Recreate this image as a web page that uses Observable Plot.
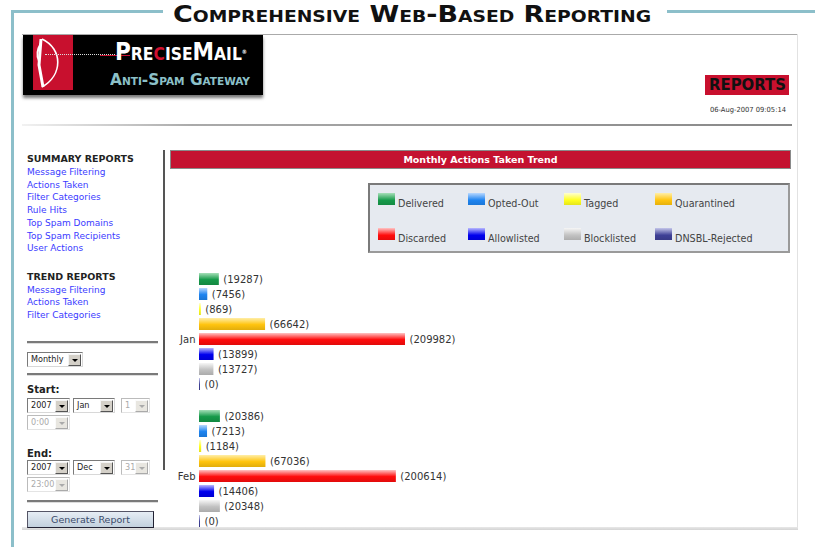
<!DOCTYPE html>
<html><head><meta charset="utf-8">
<script src="https://cdn.jsdelivr.net/npm/d3@7"></script>
<script src="https://cdn.jsdelivr.net/npm/@observablehq/plot@0.6"></script>
<style>
html,body{margin:0;padding:0;background:#fff;}
#page{position:relative;width:815px;height:547px;overflow:hidden;background:#fff;font-family:"DejaVu Sans",sans-serif;}
.abs{position:absolute;}
.sel{position:absolute;height:13px;border:1px solid;border-color:#7a7a7a #d8d8d8 #d8d8d8 #7a7a7a;background:#fff;font:9px/13px "DejaVu Sans Condensed","DejaVu Sans";color:#222;box-sizing:content-box;}
.sel span{position:absolute;left:3px;top:0;}
.sel .btn{position:absolute;right:1px;top:1px;width:11px;height:10px;background:#d4d0c8;border:1px solid;border-color:#f4f4f4 #555 #555 #f4f4f4;}
.sel .btn:after{content:"";position:absolute;left:3px;top:4px;border-left:3px solid transparent;border-right:3px solid transparent;border-top:3px solid #000;}
.sel.dis{color:#aaa;border-color:#bbb #e4e4e4 #e4e4e4 #bbb;}
.sel.dis .btn{background:#e8e6e0;border-color:#fafafa #aaa #aaa #fafafa;}
.sel.dis .btn:after{border-top-color:#aaa;}
.hr{position:absolute;left:27px;width:131px;height:2px;background:#7a7a7a;border-bottom:1px solid #ddd;}
</style></head><body><div id="page"></div>
<script>
// ---------- data ----------
const months = ["Jan", "Feb"];
const categories = ["Delivered", "Opted-Out", "Tagged", "Quarantined", "Discarded", "Allowlisted", "Blocklisted", "DNSBL-Rejected"];
const janValues = [19287, 7456, 869, 66642, 209982, 13899, 13727, 0];
const febValues = [20386, 7213, 1184, 67036, 200614, 14406, 20348, 0];
const colorLight = ["#a6dfb8", "#b8d8ff", "#ffffd2", "#ffeea8", "#ffc4c4", "#b8b8ff", "#f6f6f6", "#c4c6ea"];
const colorMain  = ["#169a4a", "#1e84f0", "#ffff1e", "#ffc40e", "#ff0c0c", "#0000ee", "#c2c2c2", "#3e4096"];
const summaryLinks = ["Message Filtering", "Actions Taken", "Filter Categories", "Rule Hits", "Top Spam Domains", "Top Spam Recipients", "User Actions"];
const trendLinks = ["Message Filtering", "Actions Taken", "Filter Categories"];
const chartTitle = "Monthly Actions Taken Trend";
const pageTitle = "Comprehensive Web-Based Reporting";
const stampText = "06-Aug-2007 09:05:14";

const page = document.getElementById("page");
function add(html) { page.insertAdjacentHTML("beforeend", html); return page.lastElementChild; }
function fit(el, w) { const r = el.getBoundingClientRect().width; el.style.transformOrigin = "0 0"; el.style.transform = `scaleX(${w / r})`; }

// ---------- gradients for bars ----------
const defs = d3.select(page).append("svg").attr("width", 0).attr("height", 0).style("position", "absolute").append("defs");
categories.forEach((c, i) => {
  const g = defs.append("linearGradient").attr("id", "grad-" + i).attr("x1", 0).attr("y1", 0).attr("x2", 0).attr("y2", 1);
  g.append("stop").attr("offset", "0%").attr("stop-color", colorLight[i]);
  g.append("stop").attr("offset", "55%").attr("stop-color", colorMain[i]);
  g.append("stop").attr("offset", "100%").attr("stop-color", d3.color(colorMain[i]).darker(0.35));
});

// ---------- outer frame / title ----------
add(`<div class="abs" style="left:11px;top:10px;width:152px;height:3px;background:#8cbfca"></div>`);
add(`<div class="abs" style="left:667px;top:10px;width:148px;height:3px;background:#8cbfca"></div>`);
add(`<div class="abs" style="left:11px;top:10px;width:3px;height:537px;background:#8cbfca"></div>`);
const t = add(`<div class="abs" style="left:173px;top:1px;font:bold 23px/26px 'DejaVu Sans Condensed','DejaVu Sans';font-variant:small-caps;color:#111;white-space:nowrap">${pageTitle}</div>`);
fit(t, 478);

// screenshot frame
add(`<div class="abs" style="left:22px;top:34px;width:776px;height:1px;background:#aaa"></div>`);
add(`<div class="abs" style="left:797px;top:34px;width:1px;height:494px;background:#e2e2e2"></div>`);
add(`<div class="abs" style="left:22px;top:527px;width:776px;height:3px;background:linear-gradient(#e8e8e8,#d4d4d4)"></div>`);

// logo
add(`<div class="abs" style="left:23px;top:35px;width:240px;height:60px;background:#000;box-shadow:0 3px 3px #777"></div>`);
add(`<div class="abs" style="left:33px;top:35px;width:40px;height:55px;background:#c8102e"></div>`);
add(`<svg class="abs" style="left:33px;top:35px" width="40" height="55"><path d="M9 4 C 30 14, 30 40, 9 52" stroke="#fff" stroke-width="1.6" fill="none"/><path d="M8 4 L6 30 L10 52" stroke="#fff" stroke-width="3" fill="none"/><path d="M6 26 Q 2 18 8 8" stroke="#fff" stroke-width="2" fill="none"/></svg>`);
add(`<div class="abs" style="left:45px;top:54px;width:70px;height:0;border-top:1px dotted #ddd"></div>`);
add(`<div class="abs" style="left:100px;top:55px;width:30px;height:1px;background:#c8102e"></div>`);
const pm = add(`<div class="abs" style="left:115px;top:39px;font:bold 25px/25px 'DejaVu Sans Condensed','DejaVu Sans';font-variant:small-caps;color:#fff;white-space:nowrap">Pre<span style="color:#d0102e">c</span>ise<span>M</span>ail<span style="font-size:6px;vertical-align:top">®</span></div>`);
fit(pm, 132);
const as = add(`<div class="abs" style="left:110px;top:72px;font:bold 16px/16px 'DejaVu Sans Condensed','DejaVu Sans';font-variant:small-caps;color:#8cc0c8;white-space:nowrap">Anti-Spam Gateway</div>`);
fit(as, 140);

// reports badge & stamp
add(`<div class="abs" style="left:705px;top:75px;width:84px;height:20px;background:#c8102e"></div>`);
const rp = add(`<div class="abs" style="left:709px;top:77px;font:bold 16px/16px 'DejaVu Sans';color:#111;white-space:nowrap">REPORTS</div>`);
fit(rp, 77);
const st = add(`<div class="abs" style="left:710px;top:106px;font:7px/8px 'DejaVu Sans Condensed','DejaVu Sans';color:#333;white-space:nowrap">${stampText}</div>`);
fit(st, 76);
add(`<div class="abs" style="left:22px;top:124px;width:770px;height:2px;background:linear-gradient(to right,#f2f2f2,#aaa 22%,#888)"></div>`);

// ---------- sidebar ----------
add(`<div class="abs" style="left:163px;top:150px;width:2px;height:320px;background:#555"></div>`);
add(`<div class="abs" style="left:27px;top:153px;font:bold 9.5px/12px 'DejaVu Sans';color:#222;white-space:nowrap">SUMMARY REPORTS</div>`);
summaryLinks.forEach((s, i) => add(`<div class="abs" style="left:27px;top:${165.8 + i * 12.75}px;font:9px/12px 'DejaVu Sans';color:#3b3bff;white-space:nowrap">${s}</div>`));
add(`<div class="abs" style="left:27px;top:271px;font:bold 9.5px/12px 'DejaVu Sans';color:#222;white-space:nowrap">TREND REPORTS</div>`);
trendLinks.forEach((s, i) => add(`<div class="abs" style="left:27px;top:${283.5 + i * 12.75}px;font:9px/12px 'DejaVu Sans';color:#3b3bff;white-space:nowrap">${s}</div>`));

add(`<div class="hr" style="top:341px"></div>`);
add(`<div class="hr" style="top:373px"></div>`);
add(`<div class="hr" style="top:500px"></div>`);
function sel(left, top, w, txt, dis) { add(`<div class="sel${dis ? " dis" : ""}" style="left:${left}px;top:${top}px;width:${w}px"><span>${txt}</span><div class="btn"></div></div>`); }
sel(27, 352, 54, "Monthly", false);
add(`<div class="abs" style="left:27px;top:384px;font:bold 10px/12px 'DejaVu Sans';color:#222">Start:</div>`);
sel(27, 398, 41, "2007", false); sel(73, 398, 40, "Jan", false); sel(121, 398, 27, "1", true);
sel(27, 415, 41, "0:00", true);
add(`<div class="abs" style="left:27px;top:448px;font:bold 10px/12px 'DejaVu Sans';color:#222">End:</div>`);
sel(27, 460, 41, "2007", false); sel(73, 460, 40, "Dec", false); sel(121, 460, 27, "31", true);
sel(27, 477, 41, "23:00", true);
add(`<div class="abs" style="left:27px;top:511px;width:125px;height:15px;background:linear-gradient(#e6edf4,#c3d1de);border:1px solid;border-color:#556 #223 #223 #556;font:9.5px/15px 'DejaVu Sans';color:#3a4a6a;text-align:center">Generate Report</div>`);

// ---------- chart header & legend ----------
add(`<div class="abs" style="left:170px;top:150px;width:619px;height:17px;background:#c41230;border:1px solid #8a8a8a;font:bold 9.5px/17px 'DejaVu Sans';color:#fff;text-align:center">${chartTitle}</div>`);
add(`<div class="abs" style="left:368px;top:183px;width:418px;height:66px;background:#e6eaf0;border:2px solid;border-color:#7a7a7a #9a9a9a #9a9a9a #7a7a7a"></div>`);
const legX = [378, 468, 564, 655], legTxtX = [398, 488, 584, 675], legY = [199, 234];
categories.forEach((c, i) => {
  const col = i % 4, row = Math.floor(i / 4);
  add(`<div class="abs" style="left:${legX[col]}px;top:${legY[row] - 6}px;width:17px;height:12px;background:linear-gradient(${colorLight[i]},${colorMain[i]} 60%,${d3.color(colorMain[i]).darker(0.3)})"></div>`);
  add(`<div class="abs" style="left:${legTxtX[col]}px;top:${legY[row] - 1}px;font:9.6px/12px 'DejaVu Sans';color:#444;white-space:nowrap">${c}</div>`);
});

// ---------- the bar chart ----------
const valuesByMonth = [janValues, febValues];
const data = [];
months.forEach((m, mi) => categories.forEach((c, ci) => data.push({month: m, category: c, value: valuesByMonth[mi][ci], idx: ci})));
const allValues = data.map(d => d.value);

const chart = Plot.plot({
  width: 630, height: 277,
  marginTop: 8, marginBottom: 10, marginLeft: 33, marginRight: 0,
  style: {background: "transparent", fontFamily: "DejaVu Sans", fontSize: "10px"},
  facet: {data, y: "month"},
  fy: {domain: months, axis: null, paddingInner: 0.11, paddingOuter: 0},
  x: {axis: null, domain: [0, d3.max(allValues)], range: [33, 238]},
  y: {axis: null, domain: categories, paddingInner: 0.22, paddingOuter: 0.11},
  color: {type: "identity"},
  marks: [
    Plot.barX(data, {y: "category", x: "value", fill: d => `url(#grad-${d.idx})`, insetRight: -1}),
    Plot.text(data, {y: "category", x: "value", text: d => `(${d.value})`, textAnchor: "start", dx: 5, fill: "#333"}),
    Plot.text(data, {filter: d => d.category === "Discarded", y: "category", x: 0, text: "month", textAnchor: "end", dx: -4, fill: "#333"})
  ]
});
const holder = add(`<div class="abs" style="left:166px;top:262px;width:630px;height:265px;overflow:hidden"></div>`);
holder.appendChild(chart);
</script>
</body></html>
